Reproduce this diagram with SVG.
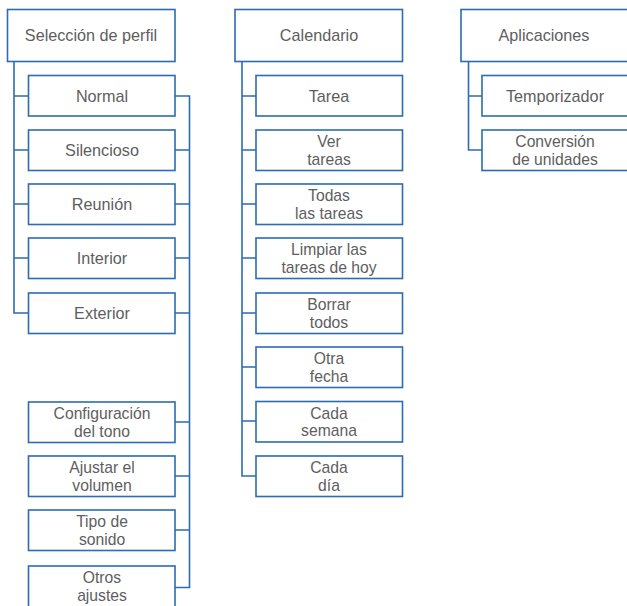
<svg xmlns="http://www.w3.org/2000/svg" width="627" height="606" viewBox="0 0 627 606">
<style>
.b{fill:#fff;stroke:#2b6cb3;stroke-width:1.6}
.c{fill:none;stroke:#2b6cb3;stroke-width:1.6}
text{font-family:"Liberation Sans",Arial,sans-serif;font-size:16.2px;fill:#5e5e5e;text-anchor:middle}
text.t{font-size:15.7px}
</style>
<rect width="627" height="606" fill="#fff"/>
<g id="connectors">
<path class="c" d="M14 61V313H28.5M14 96H28.5M14 150H28.5M14 204H28.5M14 258H28.5"/>
<path class="c" d="M175 96H189.5V587.5H175M175 150H189.5M175 204H189.5M175 258H189.5M175 313H189.5M175 422H189.5M175 476H189.5M175 530H189.5"/>
<path class="c" d="M242 61V476H256M242 96H256M242 150H256M242 204H256M242 258H256M242 313H256M242 367H256M242 421H256"/>
<path class="c" d="M468.5 61V150H482M468.5 96H482"/>
</g>
<g id="n-seleccion"><rect class="b" x="7.5" y="9.5" width="167.5" height="52"/><text x="91" y="41">Selección de perfil</text></g>
<g id="n-normal"><rect class="b" x="28.5" y="75.5" width="146.5" height="40.5"/><text x="102" y="101.5">Normal</text></g>
<g id="n-silencioso"><rect class="b" x="28.5" y="130" width="146.5" height="40.5"/><text x="102" y="156">Silencioso</text></g>
<g id="n-reunion"><rect class="b" x="28.5" y="184" width="146.5" height="40.5"/><text x="102" y="210">Reunión</text></g>
<g id="n-interior"><rect class="b" x="28.5" y="238" width="146.5" height="40.5"/><text x="102" y="264">Interior</text></g>
<g id="n-exterior"><rect class="b" x="28.5" y="293" width="146.5" height="40.5"/><text x="102" y="319">Exterior</text></g>
<g id="n-tono"><rect class="b" x="28.5" y="402" width="146.5" height="40.5"/><text class="t" x="102" y="419">Configuración</text><text class="t" x="102" y="436.6">del tono</text></g>
<g id="n-volumen"><rect class="b" x="28.5" y="456" width="146.5" height="40.5"/><text class="t" x="102" y="473">Ajustar el</text><text class="t" x="102" y="490.6">volumen</text></g>
<g id="n-sonido"><rect class="b" x="28.5" y="510" width="146.5" height="40.5"/><text class="t" x="102" y="527">Tipo de</text><text class="t" x="102" y="544.6">sonido</text></g>
<g id="n-otros"><rect class="b" x="28.5" y="566" width="146.5" height="42"/><text class="t" x="102" y="583">Otros</text><text class="t" x="102" y="600.6">ajustes</text></g>
<g id="n-calendario"><rect class="b" x="235" y="9.5" width="167.5" height="52"/><text x="319" y="41">Calendario</text></g>
<g id="n-tarea"><rect class="b" x="256" y="75.5" width="146.5" height="40.5"/><text x="329" y="101.5">Tarea</text></g>
<g id="n-ver"><rect class="b" x="256" y="130" width="146.5" height="40.5"/><text class="t" x="329" y="147">Ver</text><text class="t" x="329" y="164.6">tareas</text></g>
<g id="n-todas"><rect class="b" x="256" y="184" width="146.5" height="40.5"/><text class="t" x="329" y="201">Todas</text><text class="t" x="329" y="218.6">las tareas</text></g>
<g id="n-limpiar"><rect class="b" x="256" y="238" width="146.5" height="40.5"/><text class="t" x="329" y="255">Limpiar las</text><text class="t" x="329" y="272.6">tareas de hoy</text></g>
<g id="n-borrar"><rect class="b" x="256" y="293" width="146.5" height="40.5"/><text class="t" x="329" y="310">Borrar</text><text class="t" x="329" y="327.6">todos</text></g>
<g id="n-otra"><rect class="b" x="256" y="347" width="146.5" height="40.5"/><text class="t" x="329" y="364">Otra</text><text class="t" x="329" y="381.6">fecha</text></g>
<g id="n-semana"><rect class="b" x="256" y="401.5" width="146.5" height="40.5"/><text class="t" x="329" y="418.5">Cada</text><text class="t" x="329" y="436.1">semana</text></g>
<g id="n-dia"><rect class="b" x="256" y="456" width="146.5" height="40.5"/><text class="t" x="329" y="473">Cada</text><text class="t" x="329" y="490.6">día</text></g>
<g id="n-aplicaciones"><rect class="b" x="461" y="9.5" width="170" height="52"/><text x="544" y="41">Aplicaciones</text></g>
<g id="n-temporizador"><rect class="b" x="482" y="75.5" width="150" height="40.5"/><text x="555" y="101.5">Temporizador</text></g>
<g id="n-conversion"><rect class="b" x="482" y="130" width="150" height="40.5"/><text class="t" x="555" y="147">Conversión</text><text class="t" x="555" y="164.6">de unidades</text></g>
</svg>
